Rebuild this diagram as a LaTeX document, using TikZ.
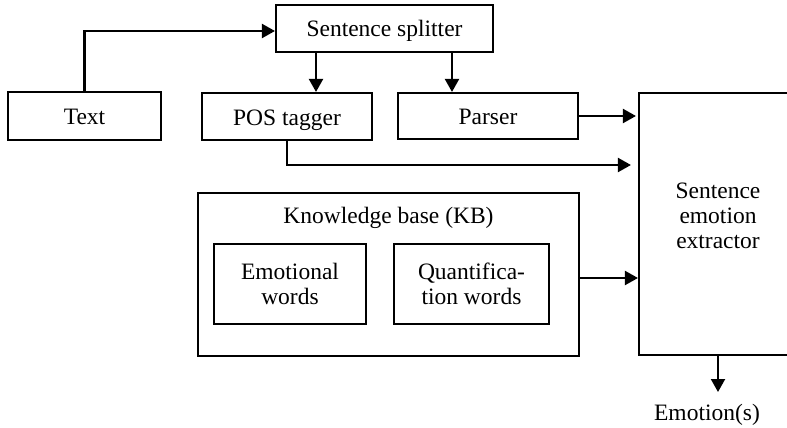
\documentclass[tikz,border=0pt]{standalone}
\usepackage{fontspec}
\setmainfont{Liberation Serif}
\usetikzlibrary{arrows.meta}
\begin{document}
\begin{tikzpicture}[x=1pt,y=-1pt,
  every node/.style={font=\fontsize{23.5}{25}\selectfont},
  blk/.style={draw, line width=2.1pt, inner sep=0pt, align=center},
  oneline/.style={text height=22pt, text depth=5pt},
  flow/.style={line width=2.1pt, -{Triangle[length=13pt,width=14pt]}}]
\useasboundingbox (0,0) rectangle (787,428);
\clip (0,0) rectangle (787,428);

% processing blocks
\node[blk, oneline, minimum width=153pt, minimum height=48pt] (text) at (84.5,116) {Text};
\node[blk, oneline, minimum width=217pt, minimum height=47pt] (splitter) at (384.5,28.5) {Sentence splitter};
\node[blk, oneline, minimum width=170pt, minimum height=47pt] (pos) at (287,116.5) {POS tagger};
\node[blk, oneline, minimum width=180pt, minimum height=46pt] (parser) at (488,116) {Parser};

% knowledge base with its two word lists
\node[blk, minimum width=381pt, minimum height=163pt] (kb) at (388.5,274.5) {};
\node (kbtitle) at (388.5,218) {Knowledge base (KB)};
\node[blk, minimum width=152pt, minimum height=80pt] (emo) at (290,284) {Emotional\\words};
\node[blk, minimum width=155pt, minimum height=80pt] (quant) at (471.5,284) {Quantifica-\\tion words};

% extractor (its right side runs past the frame)
\node[blk, minimum width=161pt, minimum height=262pt] (extractor) at (719.5,224) {};
\node[align=center] (extlabel) at (718,216) {Sentence\\emotion\\extractor};

\node[inner sep=0pt] (out) at (707,415) {Emotion(s)};

% connectors
\draw[flow] (text.north) |- ([yshift=-2.5pt]splitter.west);
\draw[flow] (splitter.south -| 316,0) -- (pos.north -| 316,0);
\draw[flow] (splitter.south -| 452,0) -- (parser.north -| 452,0);
\draw[flow, shorten >=2pt] (parser.east) -- (parser.east -| extractor.west);
\draw[flow, shorten >=7pt] (pos.south) |- (extractor.west |- 0,165);
\draw[flow] (kb.east |- 0,278) -- (extractor.west |- 0,278);
\draw[flow] (extractor.south -| 718,0) -- (718,392);
\end{tikzpicture}
\end{document}
